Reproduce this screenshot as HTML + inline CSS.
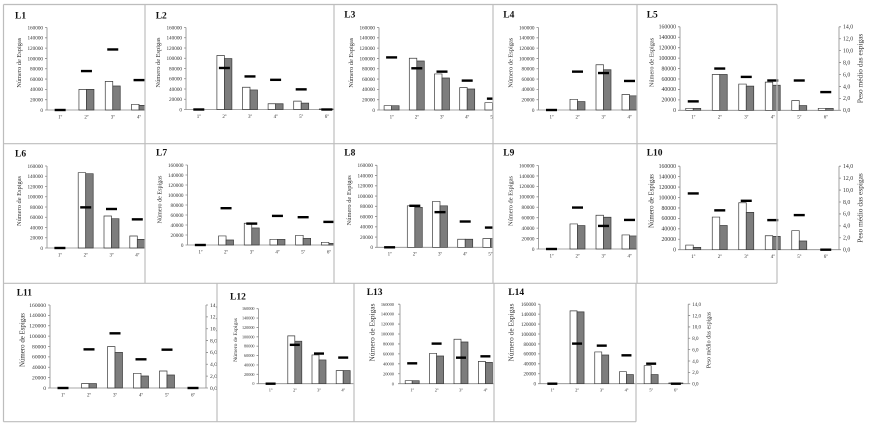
<!DOCTYPE html>
<html><head><meta charset="utf-8"><style>
body{margin:0;background:#fff}
svg{display:block}
text{font-family:"Liberation Serif",serif;fill:#333}
.w{fill:#fff;stroke:#3a3a3a;stroke-width:.7;vector-effect:non-scaling-stroke}
.g{fill:#7d7d7d;stroke:#3a3a3a;stroke-width:.7;vector-effect:non-scaling-stroke}
.d{stroke:#000;stroke-width:2.4;vector-effect:non-scaling-stroke}
.a{fill:none;stroke:#8a8a8a;stroke-width:.8;vector-effect:non-scaling-stroke}
.t{font-weight:bold;font-size:9.5px;fill:#111}
.c{fill:#fff}
.bd{stroke:#bdbdbd;stroke-width:1.2;fill:none}
.yl{text-anchor:end}
.yr{text-anchor:start}
.cl{text-anchor:middle;font-size:5px}
.ti{text-anchor:middle}
</style></head><body>
<svg width="875" height="428" viewBox="0 0 875 428">

<!-- ===== ROW 1 ===== -->
<!-- L1 -->
<rect class="c" x="3.5" y="4.5" width="141.5" height="139.2"/>
<text class="t" x="15" y="18.3">L1</text>
<g transform="translate(47,110) scale(1,-0.515625)">
<path class="a" d="M0 0V160M-2 0H0M-2 20H0M-2 40H0M-2 60H0M-2 80H0M-2 100H0M-2 120H0M-2 140H0M-2 160H0M0 0H157.8"/>
<rect class="w" x="31.95" y="0" width="7.5" height="40"/><rect class="g" x="39.45" y="0" width="7.5" height="40"/>
<rect class="w" x="58.25" y="0" width="7.5" height="55.5"/><rect class="g" x="65.75" y="0" width="7.5" height="46.5"/>
<rect class="w" x="84.55" y="0" width="7.5" height="11"/><rect class="g" x="92.05" y="0" width="7.5" height="9"/>
<line class="d" x1="7.65" x2="18.65" y1="0" y2="0"/>
<line class="d" x1="33.95" x2="44.95" y1="75.5" y2="75.5"/>
<line class="d" x1="60.25" x2="71.25" y1="117.4" y2="117.4"/>
<line class="d" x1="86.55" x2="97.55" y1="58" y2="58"/>
</g>
<g transform="translate(47,110)" font-size="5.2" class="yl">
<text x="-4" y="1.8">0</text><text x="-4" y="-8.51">20000</text><text x="-4" y="-18.83">40000</text><text x="-4" y="-29.14">60000</text><text x="-4" y="-39.45">80000</text><text x="-4" y="-49.76">100000</text><text x="-4" y="-60.08">120000</text><text x="-4" y="-70.39">140000</text><text x="-4" y="-80.7">160000</text>
</g>
<g transform="translate(47,110)" class="cl"><text x="13.15" y="8.3">1º</text><text x="39.45" y="8.3">2º</text><text x="65.75" y="8.3">3º</text><text x="92.05" y="8.3">4º</text></g>
<text class="ti" transform="translate(21.2,62.75) rotate(-90)" font-size="6.4">Número de Espigas</text>

<!-- L2 -->
<rect class="c" x="145" y="4.5" width="189" height="139.2"/>
<text class="t" x="155.7" y="18.3">L2</text>
<g transform="translate(186,109.5) scale(1,-0.5125)">
<path class="a" d="M0 0V160M-2 0H0M-2 20H0M-2 40H0M-2 60H0M-2 80H0M-2 100H0M-2 120H0M-2 140H0M-2 160H0M0 0H153.6"/>
<rect class="w" x="30.9" y="0" width="7.5" height="105.3"/><rect class="g" x="38.4" y="0" width="7.5" height="99.3"/>
<rect class="w" x="56.5" y="0" width="7.5" height="43.4"/><rect class="g" x="64" y="0" width="7.5" height="38.2"/>
<rect class="w" x="82.1" y="0" width="7.5" height="11.2"/><rect class="g" x="89.6" y="0" width="7.5" height="11.2"/>
<rect class="w" x="107.7" y="0" width="7.5" height="16.4"/><rect class="g" x="115.2" y="0" width="7.5" height="12.4"/>
<rect class="w" x="133.3" y="0" width="7.5" height="1"/><rect class="g" x="140.8" y="0" width="7.5" height="1"/>
<line class="d" x1="7.3" x2="18.3" y1="0" y2="0"/>
<line class="d" x1="32.9" x2="43.9" y1="81" y2="81"/>
<line class="d" x1="58.5" x2="69.5" y1="64.5" y2="64.5"/>
<line class="d" x1="84.1" x2="95.1" y1="57.9" y2="57.9"/>
<line class="d" x1="109.7" x2="120.7" y1="39.3" y2="39.3"/>
<line class="d" x1="135.3" x2="146.3" y1="0" y2="0"/>
</g>
<g transform="translate(186,109.5)" font-size="5.2" class="yl">
<text x="-4" y="1.8">0</text><text x="-4" y="-8.45">20000</text><text x="-4" y="-18.7">40000</text><text x="-4" y="-28.95">60000</text><text x="-4" y="-39.2">80000</text><text x="-4" y="-49.45">100000</text><text x="-4" y="-59.7">120000</text><text x="-4" y="-69.95">140000</text><text x="-4" y="-80.2">160000</text>
</g>
<g transform="translate(186,109.5)" class="cl"><text x="12.8" y="8.3">1º</text><text x="38.4" y="8.3">2º</text><text x="64" y="8.3">3º</text><text x="89.6" y="8.3">4º</text><text x="115.2" y="8.3">5º</text><text x="140.8" y="8.3">6º</text></g>
<text class="ti" transform="translate(160.2,62.5) rotate(-90)" font-size="6.4">Número de Espigas</text>

<!-- L3 -->
<rect class="c" x="334" y="4.5" width="159" height="139.2"/>
<text class="t" x="344.3" y="17.5">L3</text>
<g transform="translate(379,110) scale(1,-0.515625)">
<path class="a" d="M0 0V160M-2 0H0M-2 20H0M-2 40H0M-2 60H0M-2 80H0M-2 100H0M-2 120H0M-2 140H0M-2 160H0M0 0H151.2"/>
<rect class="w" x="5.1" y="0" width="7.5" height="8.4"/><rect class="g" x="12.6" y="0" width="7.5" height="8.4"/>
<rect class="w" x="30.3" y="0" width="7.5" height="100.3"/><rect class="g" x="37.8" y="0" width="7.5" height="95.1"/>
<rect class="w" x="55.5" y="0" width="7.5" height="69.9"/><rect class="g" x="63" y="0" width="7.5" height="62.1"/>
<rect class="w" x="80.7" y="0" width="7.5" height="43.4"/><rect class="g" x="88.2" y="0" width="7.5" height="40.8"/>
<rect class="w" x="105.9" y="0" width="7.5" height="14.2"/><rect class="g" x="113.4" y="0" width="7.5" height="12"/>
<line class="d" x1="7.1" x2="18.1" y1="102" y2="102"/>
<line class="d" x1="32.3" x2="43.3" y1="80.9" y2="80.9"/>
<line class="d" x1="57.5" x2="68.5" y1="74.4" y2="74.4"/>
<line class="d" x1="82.7" x2="93.7" y1="57" y2="57"/>
<line class="d" x1="107.9" x2="118.9" y1="22" y2="22"/>
</g>
<g transform="translate(379,110)" font-size="5.2" class="yl">
<text x="-4" y="1.8">0</text><text x="-4" y="-8.51">20000</text><text x="-4" y="-18.83">40000</text><text x="-4" y="-29.14">60000</text><text x="-4" y="-39.45">80000</text><text x="-4" y="-49.76">100000</text><text x="-4" y="-60.08">120000</text><text x="-4" y="-70.39">140000</text><text x="-4" y="-80.7">160000</text>
</g>
<g transform="translate(379,110)" class="cl"><text x="12.6" y="8.3">1º</text><text x="37.8" y="8.3">2º</text><text x="63" y="8.3">3º</text><text x="88.2" y="8.3">4º</text><text x="113.4" y="8.3">5º</text></g>
<text class="ti" transform="translate(353.2,62.75) rotate(-90)" font-size="6.4">Número de Espigas</text>

<!-- L4 -->
<rect class="c" x="493" y="4.5" width="144" height="139.2"/>
<text class="t" x="503.3" y="17.5">L4</text>
<g transform="translate(538.5,110) scale(1,-0.515625)">
<path class="a" d="M0 0V160M-2 0H0M-2 20H0M-2 40H0M-2 60H0M-2 80H0M-2 100H0M-2 120H0M-2 140H0M-2 160H0M0 0H156"/>
<rect class="w" x="31.5" y="0" width="7.5" height="20.7"/><rect class="g" x="39" y="0" width="7.5" height="16.2"/>
<rect class="w" x="57.5" y="0" width="7.5" height="87.7"/><rect class="g" x="65" y="0" width="7.5" height="78"/>
<rect class="w" x="83.5" y="0" width="7.5" height="30"/><rect class="g" x="91" y="0" width="7.5" height="27.5"/>
<line class="d" x1="7.5" x2="18.5" y1="0" y2="0"/>
<line class="d" x1="33.5" x2="44.5" y1="74.4" y2="74.4"/>
<line class="d" x1="59.5" x2="70.5" y1="71.7" y2="71.7"/>
<line class="d" x1="85.5" x2="96.5" y1="56.3" y2="56.3"/>
</g>
<g transform="translate(538.5,110)" font-size="5.2" class="yl">
<text x="-4" y="1.8">0</text><text x="-4" y="-8.51">20000</text><text x="-4" y="-18.83">40000</text><text x="-4" y="-29.14">60000</text><text x="-4" y="-39.45">80000</text><text x="-4" y="-49.76">100000</text><text x="-4" y="-60.08">120000</text><text x="-4" y="-70.39">140000</text><text x="-4" y="-80.7">160000</text>
</g>
<g transform="translate(538.5,110)" class="cl"><text x="13" y="8.3">1º</text><text x="39" y="8.3">2º</text><text x="65" y="8.3">3º</text><text x="91" y="8.3">4º</text></g>
<text class="ti" transform="translate(512.7,62.75) rotate(-90)" font-size="6.4">Número de Espigas</text>

<!-- L5 -->
<rect class="c" x="637" y="4.5" width="140" height="139.2"/>
<text class="t" x="646.7" y="17.5">L5</text>
<g transform="translate(680,110.3) scale(1,-0.521875)">
<path class="a" d="M0 0V160M-2 0H0M-2 20H0M-2 40H0M-2 60H0M-2 80H0M-2 100H0M-2 120H0M-2 140H0M-2 160H0M0 0H159"/>
<path class="a" d="M159 0V160M159 0H161M159 22.857H161M159 45.714H161M159 68.571H161M159 91.429H161M159 114.286H161M159 137.143H161M159 160H161"/>
<rect class="w" x="5.75" y="0" width="7.5" height="3.8"/><rect class="g" x="13.25" y="0" width="7.5" height="3.8"/>
<rect class="w" x="32.25" y="0" width="7.5" height="68.6"/><rect class="g" x="39.75" y="0" width="7.5" height="68.6"/>
<rect class="w" x="58.75" y="0" width="7.5" height="50.3"/><rect class="g" x="66.25" y="0" width="7.5" height="46.3"/>
<rect class="w" x="85.25" y="0" width="7.5" height="54"/><rect class="g" x="92.75" y="0" width="7.5" height="48"/>
<rect class="w" x="111.75" y="0" width="7.5" height="18.5"/><rect class="g" x="119.25" y="0" width="7.5" height="8.9"/>
<rect class="w" x="138.25" y="0" width="7.5" height="3.8"/><rect class="g" x="145.75" y="0" width="7.5" height="3.8"/>
<line class="d" x1="7.75" x2="18.75" y1="17.1" y2="17.1"/>
<line class="d" x1="34.25" x2="45.25" y1="80" y2="80"/>
<line class="d" x1="60.75" x2="71.75" y1="64" y2="64"/>
<line class="d" x1="87.25" x2="98.25" y1="57.1" y2="57.1"/>
<line class="d" x1="113.75" x2="124.75" y1="57.1" y2="57.1"/>
<line class="d" x1="140.25" x2="151.25" y1="34.9" y2="34.9"/>
</g>
<g transform="translate(680,110.3)" font-size="5.8" class="yl">
<text x="-4" y="1.8">0</text><text x="-4" y="-8.64">20000</text><text x="-4" y="-19.08">40000</text><text x="-4" y="-29.51">60000</text><text x="-4" y="-39.95">80000</text><text x="-4" y="-50.39">100000</text><text x="-4" y="-60.83">120000</text><text x="-4" y="-71.26">140000</text><text x="-4" y="-81.7">160000</text>
</g>
<g transform="translate(680,110.3)" font-size="5.8" class="yr">
<text x="163" y="1.8">0,0</text><text x="163" y="-10.13">2,0</text><text x="163" y="-22.06">4,0</text><text x="163" y="-33.99">6,0</text><text x="163" y="-45.91">8,0</text><text x="163" y="-57.84">10,0</text><text x="163" y="-69.77">12,0</text><text x="163" y="-81.7">14,0</text>
</g>
<g transform="translate(680,110.3)" class="cl"><text x="13.25" y="8.3">1º</text><text x="39.75" y="8.3">2º</text><text x="66.25" y="8.3">3º</text><text x="92.75" y="8.3">4º</text><text x="119.25" y="8.3">5º</text><text x="145.75" y="8.3">6º</text></g>
<text class="ti" transform="translate(653.5,62.5) rotate(-90)" font-size="6.3">Número de Espigas</text>
<text class="ti" transform="translate(862.6,68.5) rotate(-90)" font-size="7.4">Peso médio das espigas</text>

<!-- ===== ROW 2 ===== -->
<!-- L6 -->
<rect class="c" x="3.5" y="143.7" width="141.5" height="139.6"/>
<text class="t" x="15" y="156.7">L6</text>
<g transform="translate(47,248) scale(1,-0.5125)">
<path class="a" d="M0 0V160M-2 0H0M-2 20H0M-2 40H0M-2 60H0M-2 80H0M-2 100H0M-2 120H0M-2 140H0M-2 160H0M0 0H154.8"/>
<rect class="w" x="31.2" y="0" width="7.5" height="147"/><rect class="g" x="38.7" y="0" width="7.5" height="145"/>
<rect class="w" x="57" y="0" width="7.5" height="62.4"/><rect class="g" x="64.5" y="0" width="7.5" height="57.2"/>
<rect class="w" x="82.8" y="0" width="7.5" height="23.4"/><rect class="g" x="90.3" y="0" width="7.5" height="16.9"/>
<line class="d" x1="7.4" x2="18.4" y1="0" y2="0"/>
<line class="d" x1="33.2" x2="44.2" y1="79.3" y2="79.3"/>
<line class="d" x1="59" x2="70" y1="76.1" y2="76.1"/>
<line class="d" x1="84.8" x2="95.8" y1="55.9" y2="55.9"/>
</g>
<g transform="translate(47,248)" font-size="5.2" class="yl">
<text x="-4" y="1.8">0</text><text x="-4" y="-8.45">20000</text><text x="-4" y="-18.7">40000</text><text x="-4" y="-28.95">60000</text><text x="-4" y="-39.2">80000</text><text x="-4" y="-49.45">100000</text><text x="-4" y="-59.7">120000</text><text x="-4" y="-69.95">140000</text><text x="-4" y="-80.2">160000</text>
</g>
<g transform="translate(47,248)" class="cl"><text x="12.9" y="8.3">1º</text><text x="38.7" y="8.3">2º</text><text x="64.5" y="8.3">3º</text><text x="90.3" y="8.3">4º</text></g>
<text class="ti" transform="translate(21.2,201) rotate(-90)" font-size="6.4">Número de Espigas</text>

<!-- L7 -->
<rect class="c" x="145" y="143.7" width="189" height="139.6"/>
<text class="t" x="156" y="155.3">L7</text>
<g transform="translate(187.5,245) scale(1,-0.5)">
<path class="a" d="M0 0V160M-2 0H0M-2 20H0M-2 40H0M-2 60H0M-2 80H0M-2 100H0M-2 120H0M-2 140H0M-2 160H0M0 0H154.2"/>
<rect class="w" x="31.05" y="0" width="7.5" height="18.1"/><rect class="g" x="38.55" y="0" width="7.5" height="10"/>
<rect class="w" x="56.75" y="0" width="7.5" height="43.5"/><rect class="g" x="64.25" y="0" width="7.5" height="34.1"/>
<rect class="w" x="82.45" y="0" width="7.5" height="11.4"/><rect class="g" x="89.95" y="0" width="7.5" height="11.4"/>
<rect class="w" x="108.15" y="0" width="7.5" height="19.4"/><rect class="g" x="115.65" y="0" width="7.5" height="13.4"/>
<rect class="w" x="133.85" y="0" width="7.5" height="5.4"/><rect class="g" x="141.35" y="0" width="7.5" height="3.3"/>
<line class="d" x1="7.35" x2="18.35" y1="0" y2="0"/>
<line class="d" x1="33.05" x2="44.05" y1="73.6" y2="73.6"/>
<line class="d" x1="58.75" x2="69.75" y1="42.8" y2="42.8"/>
<line class="d" x1="84.45" x2="95.45" y1="58.2" y2="58.2"/>
<line class="d" x1="110.15" x2="121.15" y1="55.6" y2="55.6"/>
<line class="d" x1="135.85" x2="146.85" y1="46.2" y2="46.2"/>
</g>
<g transform="translate(187.5,245)" font-size="5.2" class="yl">
<text x="-4" y="1.8">0</text><text x="-4" y="-8.2">20000</text><text x="-4" y="-18.2">40000</text><text x="-4" y="-28.2">60000</text><text x="-4" y="-38.2">80000</text><text x="-4" y="-48.2">100000</text><text x="-4" y="-58.2">120000</text><text x="-4" y="-68.2">140000</text><text x="-4" y="-78.2">160000</text>
</g>
<g transform="translate(187.5,245)" class="cl"><text x="12.85" y="8.3">1º</text><text x="38.55" y="8.3">2º</text><text x="64.25" y="8.3">3º</text><text x="89.95" y="8.3">4º</text><text x="115.65" y="8.3">5º</text><text x="141.35" y="8.3">6º</text></g>
<text class="ti" transform="translate(161.7,199.5) rotate(-90)" font-size="6.1">Número de Espigas</text>

<!-- L8 -->
<rect class="c" x="334" y="143.7" width="159" height="139.6"/>
<text class="t" x="344.3" y="155.7">L8</text>
<g transform="translate(377,247.3) scale(1,-0.5125)">
<path class="a" d="M0 0V160M-2 0H0M-2 20H0M-2 40H0M-2 60H0M-2 80H0M-2 100H0M-2 120H0M-2 140H0M-2 160H0M0 0H151.2"/>
<rect class="w" x="30.3" y="0" width="7.5" height="81"/><rect class="g" x="37.8" y="0" width="7.5" height="78"/>
<rect class="w" x="55.5" y="0" width="7.5" height="89.5"/><rect class="g" x="63" y="0" width="7.5" height="81"/>
<rect class="w" x="80.7" y="0" width="7.5" height="15.7"/><rect class="g" x="88.2" y="0" width="7.5" height="15.7"/>
<rect class="w" x="105.9" y="0" width="7.5" height="17"/><rect class="g" x="113.4" y="0" width="7.5" height="17"/>
<line class="d" x1="7.1" x2="18.1" y1="0" y2="0"/>
<line class="d" x1="32.3" x2="43.3" y1="81" y2="81"/>
<line class="d" x1="57.5" x2="68.5" y1="68.6" y2="68.6"/>
<line class="d" x1="82.7" x2="93.7" y1="50.3" y2="50.3"/>
<line class="d" x1="107.9" x2="118.9" y1="38.5" y2="38.5"/>
</g>
<g transform="translate(377,247.3)" font-size="5.2" class="yl">
<text x="-4" y="1.8">0</text><text x="-4" y="-8.45">20000</text><text x="-4" y="-18.7">40000</text><text x="-4" y="-28.95">60000</text><text x="-4" y="-39.2">80000</text><text x="-4" y="-49.45">100000</text><text x="-4" y="-59.7">120000</text><text x="-4" y="-69.95">140000</text><text x="-4" y="-80.2">160000</text>
</g>
<g transform="translate(377,247.3)" class="cl"><text x="12.6" y="8.3">1º</text><text x="37.8" y="8.3">2º</text><text x="63" y="8.3">3º</text><text x="88.2" y="8.3">4º</text><text x="113.4" y="8.3">5º</text></g>
<text class="ti" transform="translate(351.2,200.3) rotate(-90)" font-size="6.4">Número de Espigas</text>

<!-- L9 -->
<rect class="c" x="493" y="143.7" width="144" height="139.6"/>
<text class="t" x="503.3" y="155.7">L9</text>
<g transform="translate(538.5,249) scale(1,-0.521875)">
<path class="a" d="M0 0V160M-2 0H0M-2 20H0M-2 40H0M-2 60H0M-2 80H0M-2 100H0M-2 120H0M-2 140H0M-2 160H0M0 0H156"/>
<rect class="w" x="31.5" y="0" width="7.5" height="48"/><rect class="g" x="39" y="0" width="7.5" height="44.8"/>
<rect class="w" x="57.5" y="0" width="7.5" height="64.7"/><rect class="g" x="65" y="0" width="7.5" height="60.9"/>
<rect class="w" x="83.5" y="0" width="7.5" height="26.9"/><rect class="g" x="91" y="0" width="7.5" height="25"/>
<line class="d" x1="7.5" x2="18.5" y1="0" y2="0"/>
<line class="d" x1="33.5" x2="44.5" y1="79.4" y2="79.4"/>
<line class="d" x1="59.5" x2="70.5" y1="44.2" y2="44.2"/>
<line class="d" x1="85.5" x2="96.5" y1="55.7" y2="55.7"/>
</g>
<g transform="translate(538.5,249)" font-size="5.2" class="yl">
<text x="-4" y="1.8">0</text><text x="-4" y="-8.64">20000</text><text x="-4" y="-19.08">40000</text><text x="-4" y="-29.51">60000</text><text x="-4" y="-39.95">80000</text><text x="-4" y="-50.39">100000</text><text x="-4" y="-60.83">120000</text><text x="-4" y="-71.26">140000</text><text x="-4" y="-81.7">160000</text>
</g>
<g transform="translate(538.5,249)" class="cl"><text x="13" y="8.3">1º</text><text x="39" y="8.3">2º</text><text x="65" y="8.3">3º</text><text x="91" y="8.3">4º</text></g>
<text class="ti" transform="translate(512.7,201) rotate(-90)" font-size="6.4">Número de Espigas</text>

<!-- L10 -->
<rect class="c" x="637" y="143.7" width="140" height="139.6"/>
<text class="t" x="646.7" y="155.7">L10</text>
<g transform="translate(680,249.7) scale(1,-0.521875)">
<path class="a" d="M0 0V160M-2 0H0M-2 20H0M-2 40H0M-2 60H0M-2 80H0M-2 100H0M-2 120H0M-2 140H0M-2 160H0M0 0H159"/>
<path class="a" d="M159 0V160M159 0H161M159 22.857H161M159 45.714H161M159 68.571H161M159 91.429H161M159 114.286H161M159 137.143H161M159 160H161"/>
<rect class="w" x="5.75" y="0" width="7.5" height="8.9"/><rect class="g" x="13.25" y="0" width="7.5" height="4.5"/>
<rect class="w" x="32.25" y="0" width="7.5" height="62.5"/><rect class="g" x="39.75" y="0" width="7.5" height="46.5"/>
<rect class="w" x="58.75" y="0" width="7.5" height="90"/><rect class="g" x="66.25" y="0" width="7.5" height="71.5"/>
<rect class="w" x="85.25" y="0" width="7.5" height="26.8"/><rect class="g" x="92.75" y="0" width="7.5" height="25.5"/>
<rect class="w" x="111.75" y="0" width="7.5" height="36.4"/><rect class="g" x="119.25" y="0" width="7.5" height="16.6"/>
<line class="d" x1="7.75" x2="18.75" y1="107.8" y2="107.8"/>
<line class="d" x1="34.25" x2="45.25" y1="75.4" y2="75.4"/>
<line class="d" x1="60.75" x2="71.75" y1="93.7" y2="93.7"/>
<line class="d" x1="87.25" x2="98.25" y1="56.7" y2="56.7"/>
<line class="d" x1="113.75" x2="124.75" y1="66.3" y2="66.3"/>
<line class="d" x1="140.25" x2="151.25" y1="0" y2="0"/>
</g>
<g transform="translate(680,249.7)" font-size="5.8" class="yl">
<text x="-4" y="1.8">0</text><text x="-4" y="-8.64">20000</text><text x="-4" y="-19.08">40000</text><text x="-4" y="-29.51">60000</text><text x="-4" y="-39.95">80000</text><text x="-4" y="-50.39">100000</text><text x="-4" y="-60.83">120000</text><text x="-4" y="-71.26">140000</text><text x="-4" y="-81.7">160000</text>
</g>
<g transform="translate(680,249.7)" font-size="5.8" class="yr">
<text x="163" y="1.8">0,0</text><text x="163" y="-10.13">2,0</text><text x="163" y="-22.06">4,0</text><text x="163" y="-33.99">6,0</text><text x="163" y="-45.91">8,0</text><text x="163" y="-57.84">10,0</text><text x="163" y="-69.77">12,0</text><text x="163" y="-81.7">14,0</text>
</g>
<g transform="translate(680,249.7)" class="cl"><text x="13.25" y="8.3">1º</text><text x="39.75" y="8.3">2º</text><text x="66.25" y="8.3">3º</text><text x="92.75" y="8.3">4º</text><text x="119.25" y="8.3">5º</text><text x="145.75" y="8.3">6º</text></g>
<text class="ti" transform="translate(653.5,201) rotate(-90)" font-size="6.9">Número de Espigas</text>
<text class="ti" transform="translate(862.6,208) rotate(-90)" font-size="7.4">Peso médio das espigas</text>

<!-- ===== ROW 3 ===== -->
<!-- L11 -->
<rect class="c" x="3.5" y="283.3" width="213.5" height="138.4"/>
<text class="t" x="16.7" y="295.3">L11</text>
<g transform="translate(50,388) scale(1,-0.51875)">
<path class="a" d="M0 0V160M-2 0H0M-2 20H0M-2 40H0M-2 60H0M-2 80H0M-2 100H0M-2 120H0M-2 140H0M-2 160H0M0 0H156"/>
<path class="a" d="M156 0V160M156 0H158M156 22.857H158M156 45.714H158M156 68.571H158M156 91.429H158M156 114.286H158M156 137.143H158M156 160H158"/>
<rect class="w" x="31.5" y="0" width="7.5" height="8.4"/><rect class="g" x="39" y="0" width="7.5" height="8.4"/>
<rect class="w" x="57.5" y="0" width="7.5" height="79.7"/><rect class="g" x="65" y="0" width="7.5" height="68.8"/>
<rect class="w" x="83.5" y="0" width="7.5" height="28.3"/><rect class="g" x="91" y="0" width="7.5" height="23.1"/>
<rect class="w" x="109.5" y="0" width="7.5" height="32.8"/><rect class="g" x="117" y="0" width="7.5" height="25"/>
<line class="d" x1="7.5" x2="18.5" y1="0" y2="0"/>
<line class="d" x1="33.5" x2="44.5" y1="74.5" y2="74.5"/>
<line class="d" x1="59.5" x2="70.5" y1="105.4" y2="105.4"/>
<line class="d" x1="85.5" x2="96.5" y1="55.3" y2="55.3"/>
<line class="d" x1="111.5" x2="122.5" y1="73.9" y2="73.9"/>
<line class="d" x1="137.5" x2="148.5" y1="0" y2="0"/>
</g>
<g transform="translate(50,388)" font-size="5.6" class="yl">
<text x="-4" y="1.8">0</text><text x="-4" y="-8.58">20000</text><text x="-4" y="-18.95">40000</text><text x="-4" y="-29.33">60000</text><text x="-4" y="-39.7">80000</text><text x="-4" y="-50.08">100000</text><text x="-4" y="-60.45">120000</text><text x="-4" y="-70.83">140000</text><text x="-4" y="-81.2">160000</text>
</g>
<g transform="translate(50,388)" font-size="5.6" class="yr">
<text x="160" y="1.8">0,0</text><text x="160" y="-10.06">2,0</text><text x="160" y="-21.91">4,0</text><text x="160" y="-33.77">6,0</text><text x="160" y="-45.63">8,0</text><text x="160" y="-57.49">10,0</text><text x="160" y="-69.34">12,0</text><text x="160" y="-81.2">14,0</text>
</g>
<g transform="translate(50,388)" class="cl"><text x="13" y="8.3">1º</text><text x="39" y="8.3">2º</text><text x="65" y="8.3">3º</text><text x="91" y="8.3">4º</text><text x="117" y="8.3">5º</text><text x="143" y="8.3">6º</text></g>
<text class="ti" transform="translate(24.7,340) rotate(-90)" font-size="6.9">Número de Espigas</text>

<!-- L12 -->
<rect class="c" x="217" y="283.3" width="137" height="138.4"/>
<text class="t" x="230" y="299.3">L12</text>
<g transform="translate(258.5,383.7) scale(1,-0.46875)">
<path class="a" d="M0 0V160M-2 0H0M-2 20H0M-2 40H0M-2 60H0M-2 80H0M-2 100H0M-2 120H0M-2 140H0M-2 160H0M0 0H145.2"/>
<rect class="w" x="29.3" y="0" width="7" height="102.1"/><rect class="g" x="36.3" y="0" width="7" height="90.7"/>
<rect class="w" x="53.5" y="0" width="7" height="61.4"/><rect class="g" x="60.5" y="0" width="7" height="50.7"/>
<rect class="w" x="77.7" y="0" width="7" height="27.9"/><rect class="g" x="84.7" y="0" width="7" height="27.9"/>
<line class="d" x1="7.1" x2="17.1" y1="0" y2="0"/>
<line class="d" x1="31.3" x2="41.3" y1="82.9" y2="82.9"/>
<line class="d" x1="55.5" x2="65.5" y1="64.3" y2="64.3"/>
<line class="d" x1="79.7" x2="89.7" y1="55.7" y2="55.7"/>
</g>
<g transform="translate(258.5,383.7)" font-size="4.2" class="yl">
<text x="-4" y="1.5">0</text><text x="-4" y="-7.88">20000</text><text x="-4" y="-17.25">40000</text><text x="-4" y="-26.63">60000</text><text x="-4" y="-36">80000</text><text x="-4" y="-45.38">100000</text><text x="-4" y="-54.75">120000</text><text x="-4" y="-64.13">140000</text><text x="-4" y="-73.5">160000</text>
</g>
<g transform="translate(258.5,383.7)" class="cl" font-size="4.5"><text x="12.1" y="8" font-size="4.5">1º</text><text x="36.3" y="8" font-size="4.5">2º</text><text x="60.5" y="8" font-size="4.5">3º</text><text x="84.7" y="8" font-size="4.5">4º</text></g>
<text class="ti" transform="translate(237,340) rotate(-90)" font-size="5.6">Número de Espigas</text>

<!-- L13 -->
<rect class="c" x="354" y="283.3" width="140" height="138.4"/>
<text class="t" x="366.7" y="295">L13</text>
<g transform="translate(400,383.7) scale(1,-0.496875)">
<path class="a" d="M0 0V160M-2 0H0M-2 20H0M-2 40H0M-2 60H0M-2 80H0M-2 100H0M-2 120H0M-2 140H0M-2 160H0M0 0H146.4"/>
<rect class="w" x="5.2" y="0" width="7" height="6.1"/><rect class="g" x="12.2" y="0" width="7" height="6.1"/>
<rect class="w" x="29.6" y="0" width="7" height="61.2"/><rect class="g" x="36.6" y="0" width="7" height="55.8"/>
<rect class="w" x="54" y="0" width="7" height="89.4"/><rect class="g" x="61" y="0" width="7" height="84"/>
<rect class="w" x="78.4" y="0" width="7" height="45"/><rect class="g" x="85.4" y="0" width="7" height="43"/>
<line class="d" x1="7.2" x2="17.2" y1="41" y2="41"/>
<line class="d" x1="31.6" x2="41.6" y1="80.7" y2="80.7"/>
<line class="d" x1="56" x2="66" y1="52.4" y2="52.4"/>
<line class="d" x1="80.4" x2="90.4" y1="55.1" y2="55.1"/>
</g>
<g transform="translate(400,383.7)" font-size="4.4" class="yl">
<text x="-6" y="1.6">0</text><text x="-6" y="-8.34">20000</text><text x="-6" y="-18.28">40000</text><text x="-6" y="-28.21">60000</text><text x="-6" y="-38.15">80000</text><text x="-6" y="-48.09">100000</text><text x="-6" y="-58.03">120000</text><text x="-6" y="-67.96">140000</text><text x="-6" y="-77.9">160000</text>
</g>
<g transform="translate(400,383.7)" class="cl"><text x="12.2" y="8" font-size="4.5">1º</text><text x="36.6" y="8" font-size="4.5">2º</text><text x="61" y="8" font-size="4.5">3º</text><text x="85.4" y="8" font-size="4.5">4º</text></g>
<text class="ti" transform="translate(374.3,332.5) rotate(-90)" font-size="7.4">Número de Espigas</text>

<!-- L14 -->
<rect class="c" x="494" y="283.3" width="142" height="138.4"/>
<text class="t" x="508.3" y="295">L14</text>
<g transform="translate(540,383.7) scale(1,-0.496875)">
<path class="a" d="M0 0V160M-2 0H0M-2 20H0M-2 40H0M-2 60H0M-2 80H0M-2 100H0M-2 120H0M-2 140H0M-2 160H0M0 0H148.2"/>
<path class="a" d="M148.2 0V160M148.2 0H150.2M148.2 22.857H150.2M148.2 45.714H150.2M148.2 68.571H150.2M148.2 91.429H150.2M148.2 114.286H150.2M148.2 137.143H150.2M148.2 160H150.2"/>
<rect class="w" x="30.05" y="0" width="7" height="146.6"/><rect class="g" x="37.05" y="0" width="7" height="144.5"/>
<rect class="w" x="54.75" y="0" width="7" height="63.9"/><rect class="g" x="61.75" y="0" width="7" height="57.8"/>
<rect class="w" x="79.45" y="0" width="7" height="24.2"/><rect class="g" x="86.45" y="0" width="7" height="18.2"/>
<rect class="w" x="104.15" y="0" width="7" height="36.3"/><rect class="g" x="111.15" y="0" width="7" height="18.2"/>
<rect class="w" x="128.85" y="0" width="7" height="1.5"/><rect class="g" x="135.85" y="0" width="7" height="1.5"/>
<line class="d" x1="7.35" x2="17.35" y1="0" y2="0"/>
<line class="d" x1="32.05" x2="42.05" y1="80.7" y2="80.7"/>
<line class="d" x1="56.75" x2="66.75" y1="76.6" y2="76.6"/>
<line class="d" x1="81.45" x2="91.45" y1="57.1" y2="57.1"/>
<line class="d" x1="106.15" x2="116.15" y1="40.3" y2="40.3"/>
<line class="d" x1="130.85" x2="140.85" y1="0" y2="0"/>
</g>
<g transform="translate(540,383.7)" font-size="5" class="yl">
<text x="-4" y="1.8">0</text><text x="-4" y="-8.14">20000</text><text x="-4" y="-18.08">40000</text><text x="-4" y="-28.01">60000</text><text x="-4" y="-37.95">80000</text><text x="-4" y="-47.89">100000</text><text x="-4" y="-57.83">120000</text><text x="-4" y="-67.76">140000</text><text x="-4" y="-77.7">160000</text>
</g>
<g transform="translate(540,383.7)" font-size="5" class="yr">
<text x="152.2" y="1.8">0,0</text><text x="152.2" y="-9.56">2,0</text><text x="152.2" y="-20.91">4,0</text><text x="152.2" y="-32.27">6,0</text><text x="152.2" y="-43.63">8,0</text><text x="152.2" y="-54.99">10,0</text><text x="152.2" y="-66.34">12,0</text><text x="152.2" y="-77.7">14,0</text>
</g>
<g transform="translate(540,383.7)" class="cl"><text x="12.35" y="8" font-size="4.6">1º</text><text x="37.05" y="8" font-size="4.6">2º</text><text x="61.75" y="8" font-size="4.6">3º</text><text x="86.45" y="8" font-size="4.6">4º</text><text x="111.15" y="8" font-size="4.6">5º</text><text x="135.85" y="8" font-size="4.6">6º</text></g>
<text class="ti" transform="translate(513.6,332.5) rotate(-90)" font-size="7.4">Número de Espigas</text>
<text class="ti" transform="translate(710.4,340) rotate(-90)" font-size="6">Peso médio das espigas</text>

<!-- cell borders -->
<path class="bd" d="M3.5 4.5H777M3.5 143.7H777M3.5 283.3H777M3.5 421.7H636M3.5 4.5V421.7M145 4.5V283.3M334 4.5V283.3M493 4.5V283.3M637 4.5V283.3M777 4.5V283.3M217 283.3V421.7M354 283.3V421.7M494 283.3V421.7M636 283.3V421.7"/>
</svg>
</body></html>
